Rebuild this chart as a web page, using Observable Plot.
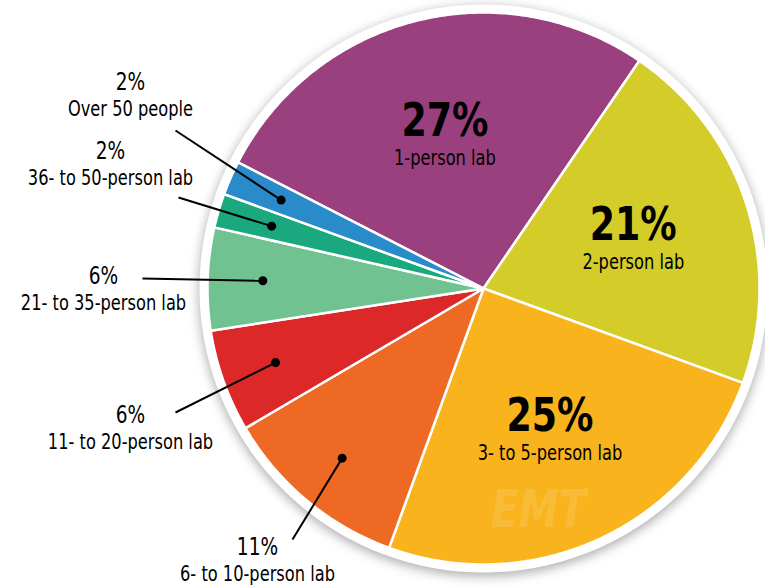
<!DOCTYPE html>
<html><head><meta charset="utf-8">
<script src="https://cdn.jsdelivr.net/npm/d3@7"></script>
<script src="https://cdn.jsdelivr.net/npm/@observablehq/plot@0.6"></script>
<style>
body{margin:0;background:#fff;}
#chart svg{display:block;}
</style>
</head><body><div id="chart"></div>
<script>
// ---- data ----
const categories = ["1-person lab","2-person lab","3- to 5-person lab","6- to 10-person lab","11- to 20-person lab","21- to 35-person lab","36- to 50-person lab","Over 50 people"];
const shares = [27, 21, 25, 11, 6, 6, 2, 2];
const colors = ["#9b407e","#d4cc28","#f9b31c","#ee6a24","#dc2828","#70c290","#1aa97f","#2a8bcb"];
const insideLabels = ["1-person lab","2-person lab","3- to 5-person lab"];

// ---- layout ----
const W = 765, H = 587;
const cx = 483, cy = 288, R = 276, rim = 8;
const startDeg = -62.8;
const font = "'DejaVu Sans Condensed','DejaVu Sans',sans-serif";
// callout anchors (pixel layout): percent text position and leader-line start
const calloutLayout = [
  {name:"Over 50 people",       text:[130, 89],  line:[175,130]},
  {name:"36- to 50-person lab", text:[110,158],  line:[178,197]},
  {name:"21- to 35-person lab", text:[103,283],  line:[142,278]},
  {name:"11- to 20-person lab", text:[130,422],  line:[175,412]},
  {name:"6- to 10-person lab",  text:[257,554],  line:[292,539]}
];

const total = d3.sum(shares);
let acc = startDeg;
const slices = categories.map((c,i) => {
  const a0 = acc, a1 = acc + shares[i]/total*360; acc = a1;
  return {name:c, share:shares[i], a0, a1, mid:(a0+a1)/2};
});
const rad = d => d*Math.PI/180;
const polar = (deg, r) => [cx + r*Math.sin(rad(deg)), cy - r*Math.cos(rad(deg))];

const slicePts = slices.flatMap(s => {
  const pts = [{name:s.name, x:cx, y:cy}];
  const n = Math.max(2, Math.ceil((s.a1 - s.a0)/0.5));
  for (let k = 0; k <= n; k++) {
    const [x,y] = polar(s.a0 + (s.a1 - s.a0)*k/n, R);
    pts.push({name:s.name, x, y});
  }
  pts.push({name:s.name, x:cx, y:cy});
  return pts;
});
const rimPts = d3.range(0, 361, 1).map(a => { const [x,y] = polar(a, R+rim); return {x,y}; });

const inside = slices.filter(s => insideLabels.includes(s.name)).map(s => {
  const [x,y] = polar(s.mid, R*0.57);
  return {...s, x, y};
});
const callouts = calloutLayout.map(l => {
  const s = slices.find(d => d.name === l.name);
  const [dx,dy] = polar(s.mid, R*0.8);
  return {...s, tx:l.text[0], ty:l.text[1], lx:l.line[0], ly:l.line[1], dx, dy};
});

const chart = Plot.plot({
  width: W, height: H,
  margin: 0,
  x: {domain:[0,W], range:[0,W], axis:null},
  y: {domain:[0,H], range:[0,H], axis:null},
  color: {domain: categories, range: colors},
  style: {background:"white"},
  marks: [
    Plot.line(rimPts, {x:"x", y:"y", fill:"white", stroke:"none"}),
    Plot.line(slicePts, {x:"x", y:"y", z:"name", fill:"name", stroke:"white", strokeWidth:2.5, strokeLinejoin:"round"}),
    Plot.text(["EMT"], {x:[cx+55], y:[cy+238], text:d=>d, fontSize:52, fontWeight:"bold", fontStyle:"italic", fill:"white", fillOpacity:0.13, fontFamily:font, lineAnchor:"bottom"}),
    Plot.text(inside, {x:"x", y:"y", text:d=>d.share+"%", fontSize:47, fontWeight:"bold", fontFamily:font, fill:"black", lineAnchor:"bottom"}),
    Plot.text(inside, {x:"x", y:"y", dy:29, text:"name", fontSize:21, fontFamily:font, fill:"black", lineAnchor:"bottom"}),
    Plot.link(callouts, {x1:"lx", y1:"ly", x2:"dx", y2:"dy", stroke:"black", strokeWidth:2}),
    Plot.dot(callouts, {x:"dx", y:"dy", r:4.5, fill:"black"}),
    Plot.text(callouts, {x:"tx", y:"ty", text:d=>d.share+"%", fontSize:24, fontFamily:font, fill:"black", lineAnchor:"bottom"}),
    Plot.text(callouts, {x:"tx", y:"ty", dy:26, text:"name", fontSize:21, fontFamily:font, fill:"black", lineAnchor:"bottom"})
  ]
});
document.getElementById("chart").appendChild(chart);
const rimG = chart.querySelector('g[aria-label="line"]');
if (rimG) rimG.style.filter = "drop-shadow(0px 3px 6px rgba(0,0,0,0.35))";
// condense lettering horizontally to mimic the narrow typeface
chart.querySelectorAll('g[aria-label="text"] text').forEach(t => {
  const tr = t.getAttribute("transform");
  if (tr) t.setAttribute("transform", tr + " scale(0.86,1)");
});
</script></body></html>
